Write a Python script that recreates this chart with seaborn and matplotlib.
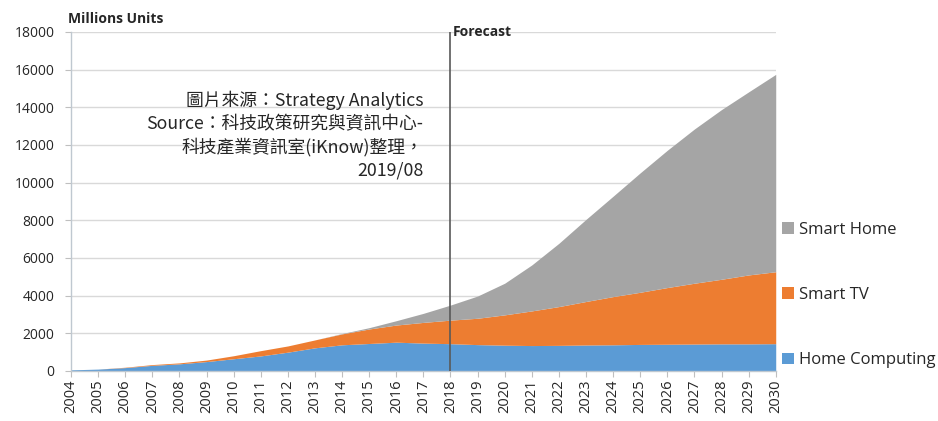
import numpy as np
import pandas as pd
import seaborn as sns
from matplotlib import pyplot as plt
from matplotlib.patches import Patch

years = list(range(2004, 2031))
home_computing = [60, 100, 180, 300, 380, 500, 650, 800, 1000, 1230, 1390, 1460, 1530, 1480,
                  1450, 1400, 1370, 1350, 1360, 1380, 1390, 1410, 1420, 1430, 1440, 1440, 1450]
smart_tv = [0, 0, 20, 40, 50, 80, 160, 280, 330, 420, 580, 770, 910, 1100,
            1250, 1400, 1610, 1840, 2060, 2310, 2560, 2770, 3010, 3230, 3430, 3660, 3820]
smart_home = [0, 0, 0, 0, 0, 0, 0, 0, 0, 0, 20, 70, 230, 480,
              800, 1180, 1680, 2440, 3360, 4360, 5330, 6340, 7290, 8190, 9010, 9720, 10480]
series_names = ["Home Computing", "Smart TV", "Smart Home"]
colors = ["#5B9BD5", "#ED7D31", "#A5A5A5"]
source_note = "圖片來源：Strategy Analytics\nSource：科技政策研究與資訊中心-\n科技產業資訊室(iKnow)整理，\n2019/08"

df = pd.DataFrame({"year": years, "Home Computing": home_computing,
                   "Smart TV": smart_tv, "Smart Home": smart_home})

sns.set_style("white")
plt.rcParams["font.family"] = ["Open Sans", "Noto Sans CJK TC", "DejaVu Sans"]

fig = plt.figure(figsize=(9.38, 4.21), dpi=100)
ax = fig.add_axes([0.0757, 0.1188, 0.7513, 0.8052])

ax.stackplot(df["year"], [df[n] for n in series_names], colors=colors, linewidth=0)

ax.set_xlim(2004, 2030)
ax.set_ylim(0, 18000)
ax.set_yticks(np.arange(0, 18001, 2000))
ax.set_xticks(years)
ax.set_xticklabels([str(y) for y in years], rotation=90, fontsize=10.5)
ax.tick_params(axis="y", labelsize=10, length=4, width=0.8, color="#BFBFBF",
               direction="out", pad=8, left=True)
ax.tick_params(axis="x", length=4, width=0.8, color="#BFBFBF", direction="out", pad=2, bottom=True)
ax.grid(axis="y", color="#D9D9D9", linewidth=1)
ax.set_axisbelow(True)
for side in ["top", "right"]:
    ax.spines[side].set_visible(False)
for side in ["left", "bottom"]:
    ax.spines[side].set_color("#BFC8D0")
    ax.spines[side].set_linewidth(1)

# forecast marker
ax.axvline(2018, color="#595959", linewidth=1.2, zorder=3)
ax.text(2018.1, 18000, "Forecast", fontsize=10, fontweight="bold", va="center", ha="left")
fig.text(0.072, 0.955, "Millions Units", fontsize=10, fontweight="bold", ha="left", va="center")

ax.text(2017.0, 12530, source_note, fontsize=12.8, ha="right", va="center",
        color="#262626", linespacing=1.33,
        family=["Noto Sans CJK TC", "DejaVu Sans"])

handles = [Patch(facecolor=c, edgecolor="none") for c in colors][::-1]
ax.legend(handles, series_names[::-1], loc="center left", bbox_to_anchor=(1.0, 0.224),
          frameon=False, fontsize=12, handlelength=0.7, handleheight=0.7,
          handletextpad=0.3, labelspacing=2.95, borderaxespad=0, borderpad=0.4)

plt.savefig("out.png", dpi=100)
